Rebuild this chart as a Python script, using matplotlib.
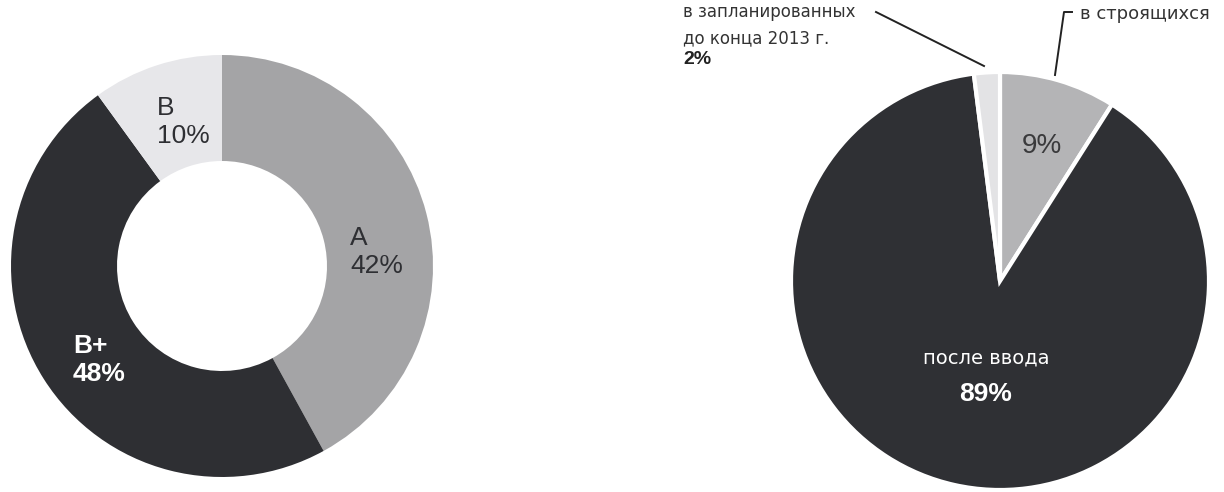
import matplotlib.pyplot as plt

# Левая диаграмма (кольцо)
donut_labels = ["A", "B+", "B"]
donut_values = [42, 48, 10]
donut_colors = ["#a4a4a6", "#2e2f33", "#e7e7ea"]

# Правая диаграмма (круг)
pie_labels = ["в строящихся", "после ввода", "в запланированных\nдо конца 2013 г."]
pie_values = [9, 89, 2]
pie_colors = ["#b4b4b6", "#2f3034", "#e3e3e5"]

W, H = 1224, 492
narrow = ["Liberation Sans Narrow", "DejaVu Sans Condensed", "DejaVu Sans"]
arial = ["Liberation Sans", "DejaVu Sans"]

fig = plt.figure(figsize=(W / 100, H / 100), dpi=100)
fig.patch.set_facecolor("white")
ax = fig.add_axes([0, 0, 1, 1])
ax.set_xlim(0, W)
ax.set_ylim(0, H)
ax.axis("off")


def y(v):
    # пиксельная координата картинки -> координата осей
    return H - v


# Кольцо
ax.pie(donut_values, colors=donut_colors, startangle=90, counterclock=False,
       center=(222, y(266)), radius=211, frame=True,
       wedgeprops=dict(width=106, linewidth=0))

ax.text(157, y(122), f"{donut_labels[2]}\n{donut_values[2]}%", ha="left",
        va="center", fontsize=19, color="#2e2f33", family=arial, linespacing=1.2)
ax.text(350, y(252), f"{donut_labels[0]}\n{donut_values[0]}%", ha="left",
        va="center", fontsize=19, color="#2e2f33", family=arial, linespacing=1.2)
ax.text(73, y(360), f"{donut_labels[1]}\n{donut_values[1]}%", ha="left",
        va="center", fontsize=19, color="white", family=arial,
        fontweight="bold", linespacing=1.2)

# Круг
ax.pie(pie_values, colors=pie_colors, startangle=90, counterclock=False,
       center=(1000, y(281)), radius=209, frame=True,
       wedgeprops=dict(edgecolor="white", linewidth=3))

ax.text(1042, y(146), f"{pie_values[0]}%", ha="center", va="center",
        fontsize=20, color="#3a3a3c", family=arial)
ax.text(986, y(358), pie_labels[1], ha="center", va="center",
        fontsize=14, color="white", family=narrow)
ax.text(986, y(394), f"{pie_values[1]}%", ha="center", va="center",
        fontsize=19, color="white", family=arial, fontweight="bold")

# Подписи с выносками
ax.text(683, y(25), pie_labels[2], ha="left", va="center", fontsize=12,
        color="#333333", family=narrow, linespacing=1.55)
ax.text(683, y(60), f"{pie_values[2]}%", ha="left", va="center", fontsize=14,
        color="#222222", family=arial, fontweight="bold")
ax.plot([876, 984], [y(12), y(66)], color="#222222", lw=1.4)

ax.text(1080, y(14), pie_labels[0], ha="left", va="center", fontsize=13,
        color="#333333", family=narrow)
ax.plot([1072, 1064, 1055], [y(12), y(12), y(75)], color="#222222", lw=1.4)

fig.savefig("out.png", dpi=100, facecolor="white")
